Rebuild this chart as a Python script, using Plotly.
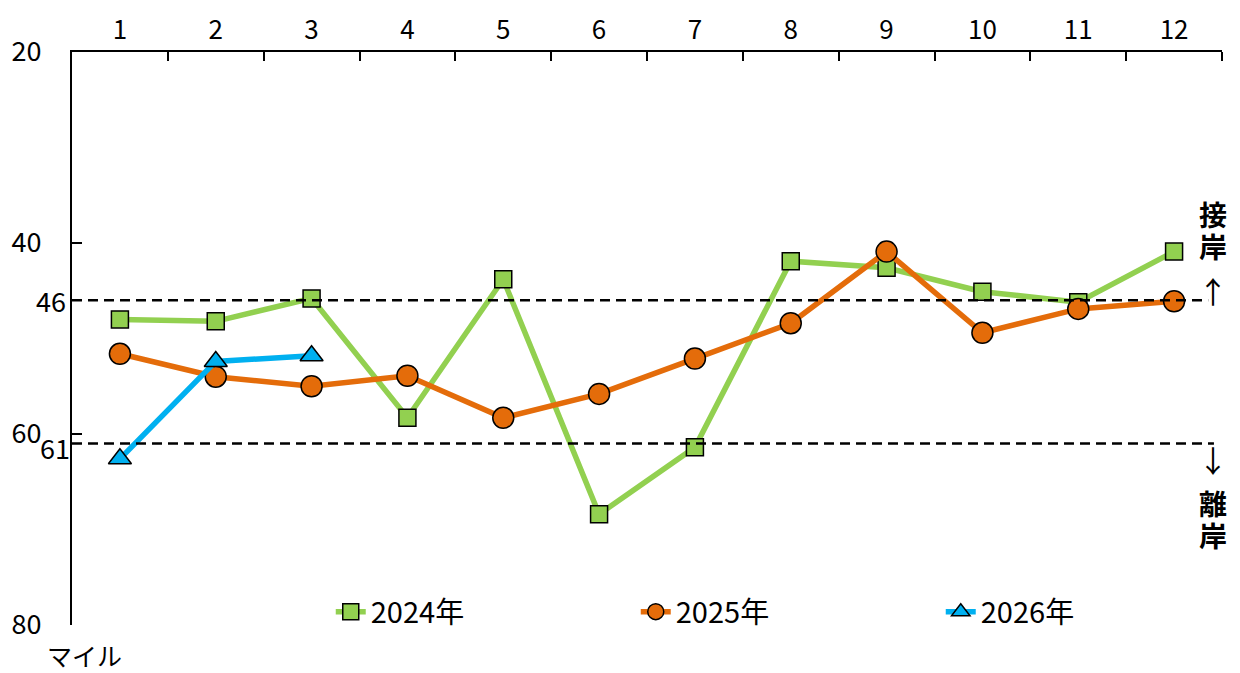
import plotly.graph_objects as go

months = list(range(1, 13))
month_labels = [str(m) for m in months]
y2024 = [48.0, 48.2, 45.8, 58.3, 43.8, 68.4, 61.4, 41.9, 42.6, 45.1, 46.2, 40.9]
y2025 = [51.6, 54.0, 55.0, 53.9, 58.3, 55.8, 52.1, 48.4, 40.9, 49.4, 46.9, 46.1]
y2026 = [62.6, 52.4, 51.8]
series_names = ["2024年", "2025年", "2026年"]
y_ticks = [20, 40, 60, 80]
ref_upper = 46
ref_lower = 61

FONT = "Noto Sans CJK JP"
GREEN = "#92D050"
ORANGE = "#E46C0A"
BLUE = "#00B0F0"

fig = go.Figure()
fig.add_trace(go.Scatter(
    x=months, y=y2024, name=series_names[0], mode="lines+markers",
    line=dict(color=GREEN, width=5.5),
    marker=dict(symbol="square", size=17, color=GREEN, line=dict(color="black", width=1.5)),
))
fig.add_trace(go.Scatter(
    x=months, y=y2025, name=series_names[1], mode="lines+markers",
    line=dict(color=ORANGE, width=5.5),
    marker=dict(symbol="circle", size=21, color=ORANGE, line=dict(color="black", width=1.5)),
))
fig.add_trace(go.Scatter(
    x=months[:len(y2026)], y=y2026, name=series_names[2], mode="lines+markers",
    line=dict(color=BLUE, width=5.5),
    marker=dict(symbol="triangle-up", size=20, color=BLUE, line=dict(color="black", width=1.5)),
))

for v, x1 in ((ref_upper, 0.988), (ref_lower, 0.993)):
    fig.add_shape(type="line", xref="paper", yref="y", x0=0, x1=x1, y0=v, y1=v,
                  line=dict(color="black", width=2.5, dash="10px,6px"), layer="above")

fig.update_layout(
    width=1240, height=673,
    margin=dict(l=72, r=18, t=52, b=48, autoexpand=False),
    plot_bgcolor="white", paper_bgcolor="white",
    font=dict(family=FONT, size=24, color="black"),
    showlegend=True,
    legend=dict(orientation="h", x=0.225, y=0.023, xanchor="left", yanchor="middle",
                font=dict(size=29), entrywidth=260, entrywidthmode="pixels",
                bgcolor="rgba(0,0,0,0)", traceorder="normal"),
    xaxis=dict(
        side="top", range=[0.5, 12.5], tickmode="array", tickvals=months, ticktext=month_labels,
        ticks="", showline=True, linecolor="black", linewidth=2, showgrid=False, zeroline=False,
        tickfont=dict(size=26), ticklabelstandoff=1, automargin=False,
        minor=dict(tickmode="array", tickvals=[m + 0.5 for m in months], ticks="inside",
                   ticklen=9, tickwidth=2, tickcolor="black", showgrid=False),
    ),
    yaxis=dict(
        range=[80, 20], tickmode="array", tickvals=y_ticks, ticktext=[str(t) for t in y_ticks],
        ticks="inside", ticklen=10, tickwidth=2, tickcolor="black",
        showline=True, linecolor="black", linewidth=2, showgrid=False, zeroline=False,
        tickfont=dict(size=27), ticklabelstandoff=23, automargin=False,
    ),
)

fig.add_annotation(xref="paper", yref="y", x=0, y=ref_upper, text=str(ref_upper), showarrow=False,
                   xanchor="right", yanchor="middle", xshift=-4, font=dict(size=27))
fig.add_annotation(xref="paper", yref="y", x=0, y=ref_lower, text=str(ref_lower), showarrow=False,
                   xanchor="right", yanchor="middle", xshift=0, yshift=-4, font=dict(size=27))
fig.add_annotation(xref="paper", yref="paper", x=0, y=0, text="マイル", showarrow=False,
                   xanchor="center", yanchor="top", xshift=12, yshift=-10, font=dict(size=25))

side_labels = [("<b>接</b>", 37.0), ("<b>岸</b>", 40.3), ("<b>離</b>", 67.2), ("<b>岸</b>", 70.6)]
for txt, yv in side_labels:
    fig.add_annotation(xref="paper", yref="y", x=1, y=yv, text=txt, showarrow=False,
                       xanchor="center", yanchor="middle", xshift=-9, font=dict(size=28),
                       borderpad=0)
fig.add_annotation(xref="paper", yref="y", x=1, y=44.9, text="↑", showarrow=False,
                   xanchor="center", yanchor="middle", xshift=-9, font=dict(size=30), borderpad=0)
fig.add_annotation(xref="paper", yref="y", x=1, y=62.6, text="↓", showarrow=False,
                   xanchor="center", yanchor="middle", xshift=-9, font=dict(size=30), borderpad=0)

fig.write_html("out.html", config={"displayModeBar": False},
               post_script="document.body.style.margin='0';")
